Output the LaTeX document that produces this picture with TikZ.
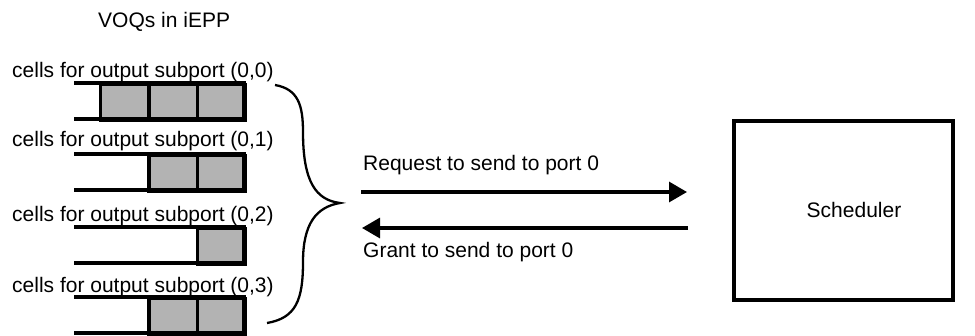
\documentclass[tikz,border=0pt]{standalone}
\usepackage{fontspec}
\setmainfont{Liberation Sans}
\usetikzlibrary{arrows.meta}
\definecolor{cellgray}{RGB}{179,179,179}
\begin{document}
\begin{tikzpicture}[x=1pt,y=-1pt,
  lbl/.style={anchor=base west,inner sep=0pt,font=\fontsize{21}{25}\selectfont},
  cell/.style={draw,line width=3.2pt,fill=cellgray,minimum width=48.3pt,minimum height=36pt,inner sep=0pt,anchor=north west},
  qline/.style={line width=3.2pt},
  msg/.style={line width=3.2pt,-{Triangle[length=18pt,width=20pt]}},
  box/.style={draw,line width=3.2pt,minimum width=219pt,minimum height=179pt,inner sep=0pt},
  bracestyle/.style={line width=2.3pt}]
\useasboundingbox (0,0) rectangle (975,335);

% title
\node[lbl] (title) at (98,27) {VOQs in iEPP};

% queue 0
\node[lbl] (l0) at (12,77) {cells for output subport (0,0)};
\node[cell] (q0a) at (99,83) {};
\node[cell] (q0b) at (147.3,83) {};
\node[cell] (q0c) at (195.7,83) {};
\draw[qline] (74,83) -- (244,83) -- (244,119) -- (74,119);

% queue 1
\node[lbl] (l1) at (12,146) {cells for output subport (0,1)};
\node[cell] (q1b) at (147.3,154) {};
\node[cell] (q1c) at (195.7,154) {};
\draw[qline] (74,154) -- (244,154) -- (244,190) -- (74,190);

% queue 2
\node[lbl] (l2) at (12,221) {cells for output subport (0,2)};
\node[cell] (q2c) at (195.7,227) {};
\draw[qline] (74,227) -- (244,227) -- (244,263) -- (74,263);

% queue 3
\node[lbl] (l3) at (12,292) {cells for output subport (0,3)};
\node[cell] (q3b) at (147.3,297) {};
\node[cell] (q3c) at (195.7,297) {};
\draw[qline] (74,297) -- (244,297) -- (244,333) -- (74,333);

% brace
\draw[bracestyle] (275,85) .. controls (298,89) and (303,105) .. (303,132)
  .. controls (303,182) and (316,200) .. (340,203)
  .. controls (316,207) and (303,224) .. (303,262)
  .. controls (303,300) and (296,318) .. (267,323);

% scheduler
\node[box] (sched) at (843.5,210.5) {};
\node[lbl,anchor=base] (schedtxt) at (854,217) {Scheduler};

% messages
\coordinate (reqs) at (361,192);
\coordinate (reqe) at (687,192);
\coordinate (gras) at (688,228);
\coordinate (grae) at (362,228);
\draw[msg] (reqs) -- (reqe);
\draw[msg] (gras) -- (grae);
\node[lbl] (reqlbl) at (363,170) {Request to send to port 0};
\node[lbl] (gralbl) at (363,257) {Grant to send to port 0};
\end{tikzpicture}
\end{document}
